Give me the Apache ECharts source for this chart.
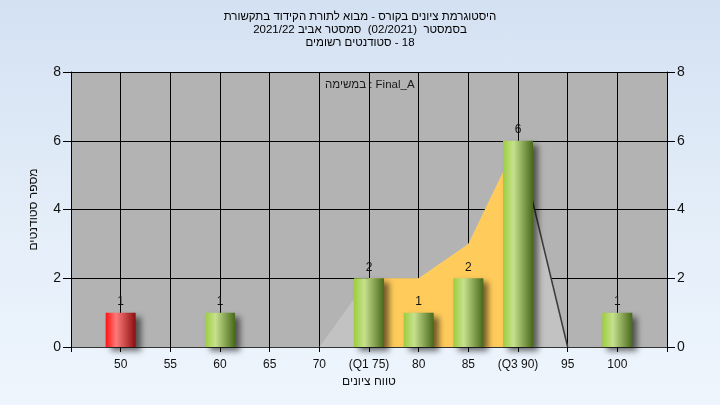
<!DOCTYPE html>
<html>
<head>
<meta charset="utf-8">
<script src="https://cdn.jsdelivr.net/npm/echarts@6/dist/echarts.min.js"></script>
<style>
html,body{margin:0;padding:0;}
#c{width:720px;height:405px;background:linear-gradient(to bottom,#d4e1f2 0%,#e4eef9 55%,#eef5fd 100%);}
</style>
</head>
<body>
<div id="c"></div>
<script>
// ---- data ----
const titleLine1 = 'היסטוגרמת ציונים בקורס - מבוא לתורת הקידוד בתקשורת';
const titleLine2 = 'בסמסטר  (02/2021)  סמסטר אביב 2021/22';
const titleLine3 = 'סטודנטים רשומים\u200E - 18';
const assignmentText = 'במשימה : Final_A';
const xAxisTitle = 'טווח ציונים';
const yAxisTitle = 'מספר סטודנטים';

const binCenters = [50, 55, 60, 65, 70, 75, 80, 85, 90, 95, 100];
const counts     = [1, 0, 1, 0, 0, 2, 1, 2, 6, 0, 1];
const xTickValues = [50, 55, 60, 65, 70, 75, 80, 85, 90, 95, 100];
const xTickLabels = ['50', '55', '60', '65', '70', '(Q1 75)', '80', '85', '(Q3 90)', '95', '100'];
const yTickValues = [0, 2, 4, 6, 8];

const curveX = [70, 75, 80, 85, 90, 95];
const curveY = [0, 2, 2, 3, 6, 0];
const q1 = 75, q3 = 90;
const failLimit = 55;

// ---- build ----
const chart = echarts.init(document.getElementById('c'), null, {renderer: 'canvas'});
const curve = curveX.map((x, i) => [x, curveY[i]]);
const iqr = curve.filter(p => p[0] >= q1 && p[0] <= q3);
const tail = curve.filter(p => p[0] >= q3);
const bars = binCenters.map((x, i) => [x, counts[i]]);

const greenGrad = new echarts.graphic.LinearGradient(0, 0, 1, 0, [
  {offset: 0, color: '#9ccd3e'},
  {offset: 0.35, color: '#c6e18e'},
  {offset: 1, color: '#48681a'}
]);
const redGrad = new echarts.graphic.LinearGradient(0, 0, 1, 0, [
  {offset: 0, color: '#ff1414'},
  {offset: 0.35, color: '#ff7a7a'},
  {offset: 1, color: '#8a0e0e'}
]);
const labelMap = {};
xTickValues.forEach((v, i) => labelMap[v] = xTickLabels[i]);

const fontFam = 'Liberation Sans, Arial, sans-serif';

chart.setOption({
  backgroundColor: 'transparent',
  animation: false,
  textStyle: {fontFamily: fontFam},
  title: [{
    text: titleLine1 + '\n' + titleLine2 + '\n' + titleLine3,
    left: 'center',
    top: 5,
    textStyle: {fontSize: 11.5, fontWeight: 'normal', color: '#000', lineHeight: 13, fontFamily: fontFam}
  }, {
    text: assignmentText,
    left: 320,
    top: 74,
    textStyle: {fontSize: 11.5, fontWeight: 'normal', color: '#1a1a1a', fontFamily: fontFam}
  }],
  grid: {left: 71, right: 53, top: 72, bottom: 58, show: true, backgroundColor: '#b3b3b3', borderWidth: 0},
  xAxis: {
    type: 'value', min: 45, max: 105, interval: 5,
    name: xAxisTitle, nameLocation: 'middle', nameGap: 27,
    nameTextStyle: {fontSize: 12, color: '#111', fontFamily: fontFam},
    axisLine: {show: true, lineStyle: {color: '#333', width: 1}},
    axisTick: {show: true, length: 5, lineStyle: {color: '#000'}},
    axisLabel: {
      fontSize: 12, color: '#111', margin: 12,
      formatter: v => (labelMap[v] !== undefined ? labelMap[v] : '')
    },
    splitLine: {show: true, lineStyle: {color: '#000', width: 1}}
  },
  yAxis: [{
    type: 'value', min: 0, max: 8, interval: 2, position: 'left',
    name: yAxisTitle, nameLocation: 'middle', nameGap: 31, nameRotate: 90,
    nameTextStyle: {fontSize: 12, color: '#111', fontFamily: fontFam},
    axisLine: {show: true, lineStyle: {color: '#000'}},
    axisTick: {show: true, length: 8, lineStyle: {color: '#000'}},
    axisLabel: {fontSize: 14, color: '#111', margin: 10,
      formatter: v => (yTickValues.indexOf(v) >= 0 ? String(v) : '')},
    splitLine: {show: true, lineStyle: {color: '#000', width: 1}}
  }, {
    type: 'value', min: 0, max: 8, interval: 2, position: 'right',
    axisLine: {show: true, lineStyle: {color: '#000'}},
    axisTick: {show: true, length: 8, lineStyle: {color: '#000'}},
    axisLabel: {fontSize: 14, color: '#111', margin: 10,
      formatter: v => (yTickValues.indexOf(v) >= 0 ? String(v) : '')},
    splitLine: {show: false}
  }],
  series: [{
    type: 'line', data: curve, showSymbol: false, silent: true, z: 1,
    lineStyle: {width: 0}, areaStyle: {color: '#c2c2c2', opacity: 1}
  }, {
    type: 'line', data: iqr, showSymbol: false, silent: true, z: 1,
    lineStyle: {width: 0}, areaStyle: {color: '#ffcb5b', opacity: 1}
  }, {
    type: 'line', data: tail, showSymbol: false, silent: true, z: 1,
    lineStyle: {width: 1.5, color: '#3a3a3a'}
  }, {
    type: 'bar', data: bars, barWidth: 30, z: 5,
    itemStyle: {
      color: p => (p.value[0] < failLimit ? redGrad : greenGrad),
      shadowColor: 'rgba(0,0,0,0.55)', shadowBlur: 6, shadowOffsetX: 5, shadowOffsetY: 4
    },
    label: {
      show: true, position: 'top', distance: 5, fontSize: 12, color: '#111',
      formatter: p => (p.value[1] > 0 ? String(p.value[1]) : '')
    }
  }]
});
</script>
</body>
</html>
